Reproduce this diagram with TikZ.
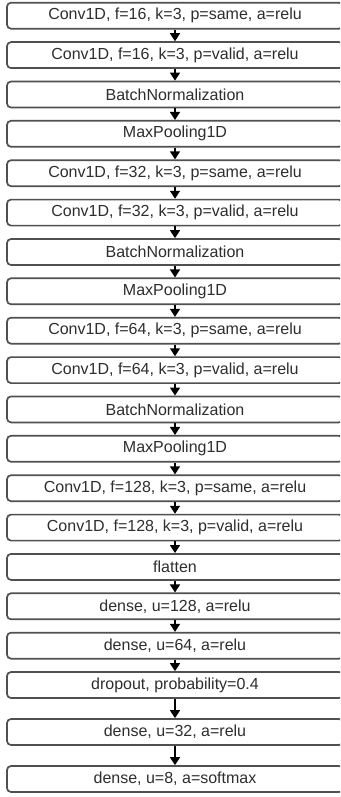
\documentclass[tikz,border=0pt]{standalone}
\usepackage{fontspec}
\setmainfont{Liberation Sans}
\usetikzlibrary{arrows.meta}

\definecolor{boxline}{HTML}{505050}
\definecolor{boxtext}{HTML}{2E2E2E}

\tikzset{
  layer/.style={draw=boxline, line width=1.7pt, rounded corners=4pt,
    minimum width=336pt, minimum height=26pt, inner sep=0pt,
    text=boxtext, font=\fontsize{16}{18}\selectfont, fill=white},
  flow/.style={draw=black, line width=1.5pt,
    -{Triangle[width=10pt,length=8pt]}}
}

\begin{document}
\begin{tikzpicture}[x=1pt, y=-1pt]
  \useasboundingbox (0,0) rectangle (340,797);
  \clip (0,0) rectangle (340,797);
  \fill[white] (0,0) rectangle (340,797);

  % convolutional blocks
  \node[layer] (l1)  at (175, 15.7)  {Conv1D, f=16, k=3, p=same, a=relu};
  \node[layer] (l2)  at (175, 55.1)  {Conv1D, f=16, k=3, p=valid, a=relu};
  \node[layer] (l3)  at (175, 94.5)  {BatchNormalization};
  \node[layer] (l4)  at (175, 133.8) {MaxPooling1D};
  \node[layer] (l5)  at (175, 173.2) {Conv1D, f=32, k=3, p=same, a=relu};
  \node[layer] (l6)  at (175, 212.6) {Conv1D, f=32, k=3, p=valid, a=relu};
  \node[layer] (l7)  at (175, 252.0) {BatchNormalization};
  \node[layer] (l8)  at (175, 291.3) {MaxPooling1D};
  \node[layer] (l9)  at (175, 330.7) {Conv1D, f=64, k=3, p=same, a=relu};
  \node[layer] (l10) at (175, 370.1) {Conv1D, f=64, k=3, p=valid, a=relu};
  \node[layer] (l11) at (175, 409.4) {BatchNormalization};
  \node[layer] (l12) at (175, 448.8) {MaxPooling1D};
  \node[layer] (l13) at (175, 488.2) {Conv1D, f=128, k=3, p=same, a=relu};
  \node[layer] (l14) at (175, 527.6) {Conv1D, f=128, k=3, p=valid, a=relu};

  % dense head
  \node[layer] (l15) at (175, 566.9) {flatten};
  \node[layer] (l16) at (175, 606.3) {dense, u=128, a=relu};
  \node[layer] (l17) at (175, 645.7) {dense, u=64, a=relu};
  \node[layer] (l18) at (175, 685.0) {dropout, probability=0.4};
  \node[layer] (l19) at (175, 732.0) {dense, u=32, a=relu};
  \node[layer] (l20) at (175, 779.0) {dense, u=8, a=softmax};

  % connectors
  \foreach \a/\b in {1/2,2/3,3/4,4/5,5/6,6/7,7/8,8/9,9/10,10/11,11/12,12/13,
                     13/14,14/15,15/16,16/17,17/18,18/19,19/20}
    \draw[flow] (l\a.south) -- (l\b.north);
\end{tikzpicture}
\end{document}
